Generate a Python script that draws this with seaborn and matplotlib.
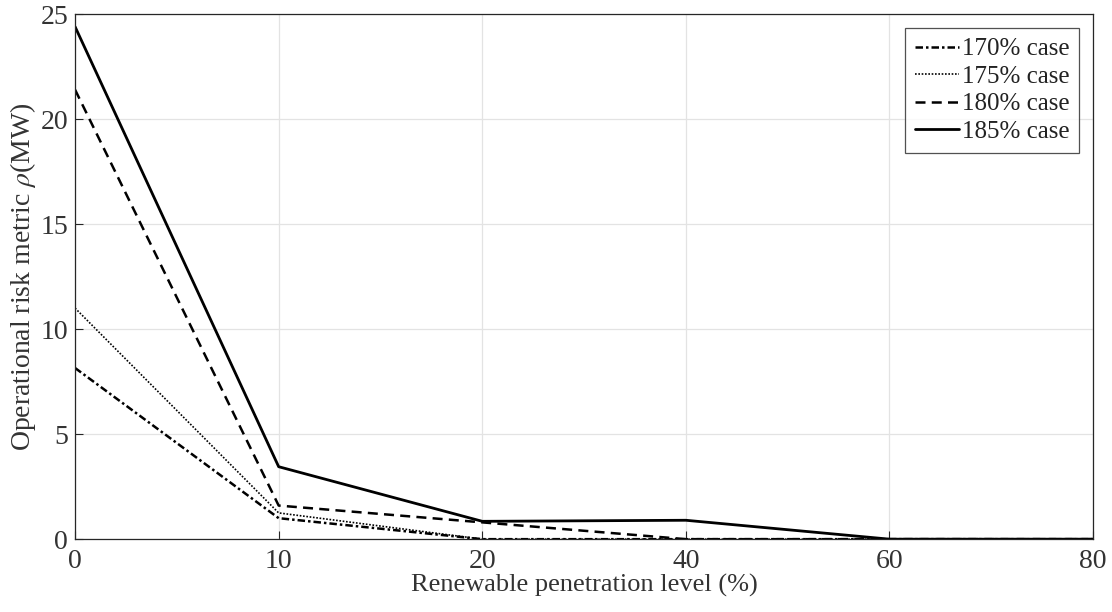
import matplotlib
matplotlib.use("Agg")
import matplotlib.pyplot as plt
import seaborn as sns
import pandas as pd
import numpy as np

# Renewable penetration levels (%), plotted at evenly spaced positions
levels = ["0", "10", "20", "40", "60", "80"]

case_170 = [8.15, 1.0, 0.0, 0.0, 0.0, 0.0]
case_175 = [11.0, 1.25, 0.0, 0.0, 0.0, 0.0]
case_180 = [21.4, 1.6, 0.8, 0.0, 0.0, 0.0]
case_185 = [24.4, 3.45, 0.85, 0.9, 0.0, 0.0]

series_names = ["170% case", "175% case", "180% case", "185% case"]
series_values = [case_170, case_175, case_180, case_185]

sns.set_theme(style="white")
plt.rcParams["font.family"] = ["Liberation Serif", "DejaVu Serif"]
plt.rcParams["mathtext.fontset"] = "stix"

frames = []
for name, vals in zip(series_names, series_values):
    frames.append(pd.DataFrame({"pos": np.arange(len(levels)), "risk": vals, "case": name}))
df = pd.concat(frames, ignore_index=True)

styles = {
    "170% case": dict(ls=(0, (3, 1.2, 1, 1.2)), lw=1.8),
    "175% case": dict(ls=(0, (1, 1)), lw=1.2),
    "180% case": dict(ls=(0, (4, 2.5)), lw=1.8),
    "185% case": dict(ls="-", lw=2.0),
}

fig, ax = plt.subplots(figsize=(11.12, 6.12), dpi=100)
fig.subplots_adjust(left=0.0675, right=0.983, top=0.977, bottom=0.119)

for name in series_names:
    st = styles[name]
    sns.lineplot(data=df[df["case"] == name], x="pos", y="risk", ax=ax,
                 color="black", linestyle=st["ls"], linewidth=st["lw"],
                 label=name, legend=False)

ax.set_xlim(0, len(levels) - 1)
ax.set_ylim(0, 25)
ax.set_xticks(np.arange(len(levels)))
ax.set_xticklabels(levels)
ax.set_yticks([0, 5, 10, 15, 20, 25])

ax.grid(True, color="#e3e3e3", linewidth=0.9)
ax.set_axisbelow(True)
for sp in ax.spines.values():
    sp.set_color("#262626")
    sp.set_linewidth(0.9)

ax.tick_params(axis="both", direction="in", length=6, width=0.8,
               colors="#262626", labelsize=20, top=False, right=False,
               bottom=True, left=True)
ax.tick_params(axis="x", pad=7)
ax.tick_params(axis="y", pad=5)
for lab in ax.get_xticklabels() + ax.get_yticklabels():
    lab.set_color("#333333")

ax.set_xlabel("Renewable penetration level (%)", fontsize=19, color="#333333", labelpad=0)
ax.set_ylabel(r"Operational risk metric $\rho$(MW)", fontsize=20, color="#333333", labelpad=2)

leg = ax.legend(loc="upper right", fontsize=18, frameon=True, fancybox=False,
                edgecolor="#262626", handlelength=1.75, handletextpad=0.1,
                borderpad=0.4, labelspacing=0.2, borderaxespad=0.55)
leg.get_frame().set_linewidth(0.9)
for t in leg.get_texts():
    t.set_color("#222222")

fig.savefig("out.png", dpi=100)
